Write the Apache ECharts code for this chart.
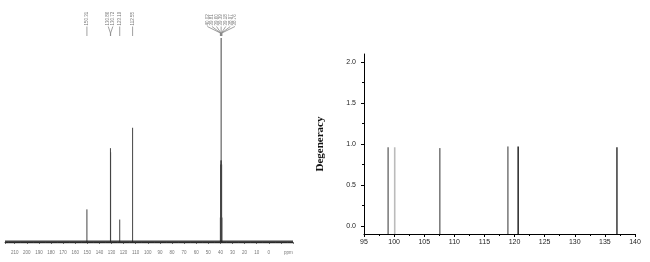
<!DOCTYPE html>
<html>
<head>
<meta charset="utf-8">
<script src="https://cdn.jsdelivr.net/npm/echarts@6/dist/echarts.min.js"></script>
<style>
html, body { margin: 0; padding: 0; background: #fff; }
#chart { width: 650px; height: 262px; }
</style>
</head>
<body>
<div id="chart"></div>
<script>
// 13C spectrum (left panel)
var nmrPeakPpm = [150.31, 130.86, 130.72, 123.19, 112.55, 40.02, 39.81, 39.60, 39.39, 39.18, 38.97, 38.76];
var nmrPeakHeight = [0.16, 0.46, 0.44, 0.11, 0.56, 0.12, 0.38, 0.40, 1.0, 0.40, 0.38, 0.12];
var nmrPeakLabels = ['150.31', '130.86', '130.72', '123.19', '112.55', '40.02', '39.81', '39.60', '39.39', '39.18', '38.97', '38.76'];
var nmrRange = [-20, 218];

// degeneracy (right panel)
var shiftValues = [99.0, 100.1, 107.6, 118.9, 120.6, 137.0];
var degeneracy = [0.96, 0.96, 0.95, 0.97, 0.97, 0.96];
var degTicks = [0, 0.5, 1.0, 1.5, 2.0];
var degMinorTicks = [0.25, 0.75, 1.25, 1.75];
var degRange = [-0.1, 2.1];
var barColors = ['#333', '#bbb', '#333', '#333', '#333', '#444'];
var barWidths = [1, 1.6, 1, 1, 1.6, 1.6];

// group close peaks so their labels fan out
var clusters = [], clusterOf = [];
nmrPeakPpm.forEach(function (p, i) {
  var last = clusters[clusters.length - 1];
  if (last && Math.abs(nmrPeakPpm[last[last.length - 1]] - p) < 2) last.push(i);
  else clusters.push([i]);
  clusterOf[i] = clusters.length - 1;
});

var chart = echarts.init(document.getElementById('chart'), null, { renderer: 'canvas' });

var option = {
  animation: false,
  backgroundColor: '#fff',
  grid: [
    { left: 5, right: 357, top: 38, bottom: 20 },
    { left: 364, right: 15, top: 54, bottom: 28 }
  ],
  xAxis: [
    {
      gridIndex: 0,
      type: 'value',
      inverse: true,
      min: nmrRange[0],
      max: nmrRange[1],
      interval: 10,
      offset: 5,
      splitLine: { show: false },
      axisLine: { lineStyle: { color: '#555', width: 1 } },
      axisTick: { length: 2, lineStyle: { color: '#777' } },
      minorTick: { show: true, splitNumber: 2, length: 1, lineStyle: { color: '#999' } },
      axisLabel: {
        fontSize: 4.5,
        color: '#777',
        margin: 3,
        fontFamily: 'Liberation Sans',
        formatter: function (v) { return (v >= 0 && v <= 210 && v % 10 === 0) ? String(v) : ''; }
      }
    },
    {
      gridIndex: 1,
      type: 'value',
      min: 95,
      max: 140,
      interval: 5,
      splitLine: { show: false },
      axisLine: { onZero: false, lineStyle: { color: '#000', width: 1.2 } },
      axisTick: { length: 3, lineStyle: { color: '#000' } },
      minorTick: { show: true, splitNumber: 2, length: 2, lineStyle: { color: '#000' } },
      axisLabel: { fontSize: 7, color: '#222', margin: 5, fontFamily: 'Liberation Sans' }
    }
  ],
  yAxis: [
    { gridIndex: 0, type: 'value', min: 0, max: 1, show: false },
    {
      gridIndex: 1,
      type: 'value',
      position: 'left',
      min: degRange[0],
      max: degRange[1],
      name: 'Degeneracy',
      nameLocation: 'middle',
      nameGap: 38,
      nameTextStyle: { fontFamily: 'Liberation Serif', fontWeight: 'bold', fontSize: 11, color: '#111' },
      splitLine: { show: false },
      axisLine: { show: true, onZero: false, lineStyle: { color: '#000', width: 1 } },
      axisTick: { length: 3, customValues: degTicks, lineStyle: { color: '#000' } },
      axisLabel: {
        customValues: degTicks,
        fontSize: 7,
        color: '#222',
        margin: 8,
        fontFamily: 'Liberation Sans',
        formatter: function (v) { return v.toFixed(1); }
      }
    },
    {
      // minor ticks of the degeneracy axis
      gridIndex: 1,
      type: 'value',
      position: 'left',
      offset: 0,
      min: degRange[0],
      max: degRange[1],
      splitLine: { show: false },
      axisLine: { show: false, onZero: false },
      axisTick: { length: 2, customValues: degMinorTicks, lineStyle: { color: '#000' } },
      axisLabel: { show: false }
    }
  ],
  graphic: [
    { type: 'text', left: 284, top: 250, style: { text: 'ppm', fontSize: 4.5, fill: '#777', fontFamily: 'Liberation Sans' } }
  ],
  series: [
    {
      // flat baseline of the spectrum
      type: 'line',
      xAxisIndex: 0,
      yAxisIndex: 0,
      symbol: 'none',
      data: [[nmrRange[1], 0], [nmrRange[0], 0]],
      lineStyle: { color: '#222', width: 3, opacity: 0.85 }
    },
    {
      type: 'custom',
      xAxisIndex: 0,
      yAxisIndex: 0,
      data: nmrPeakPpm.map(function (p, i) { return [p, nmrPeakHeight[i]]; }),
      renderItem: function (params, api) {
        var p0 = api.coord([api.value(0), 0]);
        var p1 = api.coord([api.value(0), api.value(1)]);
        return {
          type: 'line',
          shape: { x1: p0[0], y1: p0[1], x2: p1[0], y2: p1[1] },
          style: { stroke: '#444', lineWidth: 1 }
        };
      }
    },
    {
      // peak labels on top
      type: 'custom',
      xAxisIndex: 0,
      yAxisIndex: 0,
      data: nmrPeakPpm.map(function (p, i) { return [p, i]; }),
      renderItem: function (params, api) {
        var i = params.dataIndex;
        var c = clusters[clusterOf[i]];
        var k = c.indexOf(i);
        var n = c.length;
        var px = api.coord([nmrPeakPpm[i], 0])[0];
        var mean = 0;
        c.forEach(function (j) { mean += api.coord([nmrPeakPpm[j], 0])[0]; });
        mean /= n;
        var lx = mean + (k - (n - 1) / 2) * 4.6;
        var pts = n === 1 ? [[px, 26.5], [px, 36]] : [[lx, 26.5], [px, 33], [px, 36]];
        return {
          type: 'group',
          children: [
            {
              type: 'text',
              x: lx,
              y: 25.5,
              rotation: Math.PI / 2,
              style: {
                text: nmrPeakLabels[i],
                fontSize: 4.5,
                fontFamily: 'Liberation Sans',
                fill: '#777',
                textAlign: 'left',
                align: 'left',
                textVerticalAlign: 'middle',
                verticalAlign: 'middle'
              }
            },
            {
              type: 'polyline',
              shape: { points: pts },
              style: { stroke: '#888', lineWidth: 0.8, fill: null }
            }
          ]
        };
      }
    },
    {
      type: 'custom',
      xAxisIndex: 1,
      yAxisIndex: 1,
      data: shiftValues.map(function (x, i) { return [x, degeneracy[i]]; }),
      renderItem: function (params, api) {
        var i = params.dataIndex;
        var p0 = api.coord([api.value(0), degRange[0]]);
        var p1 = api.coord([api.value(0), api.value(1)]);
        return {
          type: 'line',
          shape: { x1: p0[0], y1: p0[1], x2: p1[0], y2: p1[1] },
          style: { stroke: barColors[i], lineWidth: barWidths[i] }
        };
      }
    }
  ]
};

chart.setOption(option);
window.addEventListener('resize', chart.resize);
</script>
</body>
</html>
